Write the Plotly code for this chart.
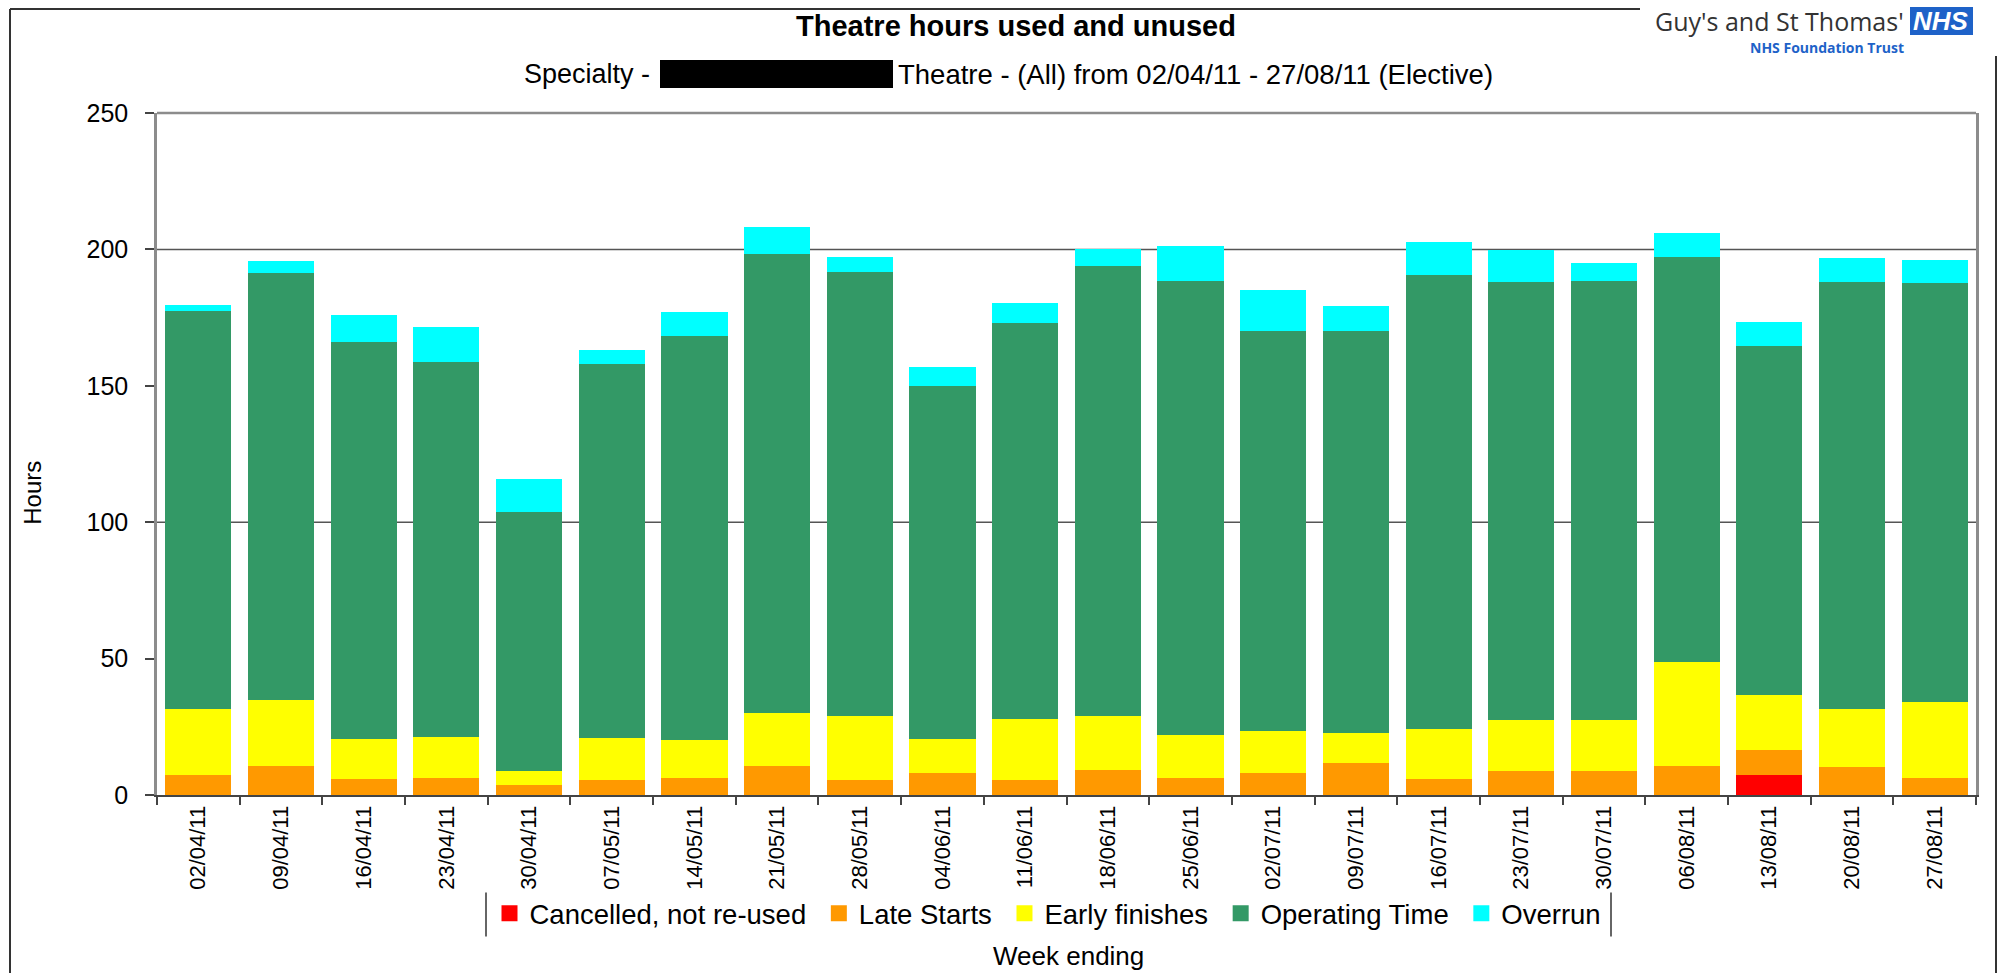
import plotly.graph_objects as go

# Week-ending dates (x categories)
weeks = ["02/04/11", "09/04/11", "16/04/11", "23/04/11", "30/04/11", "07/05/11",
         "14/05/11", "21/05/11", "28/05/11", "04/06/11", "11/06/11", "18/06/11",
         "25/06/11", "02/07/11", "09/07/11", "16/07/11", "23/07/11", "30/07/11",
         "06/08/11", "13/08/11", "20/08/11", "27/08/11"]

# Hours per category, stacked bottom to top
cancelled = [0, 0, 0, 0, 0, 0, 0, 0, 0, 0, 0, 0, 0, 0, 0, 0, 0, 0, 0, 7.4, 0, 0]
late_starts = [7.4, 10.6, 5.9, 6.4, 3.6, 5.6, 6.4, 10.6, 5.6, 8.2, 5.6, 9.3,
               6.4, 7.9, 11.9, 5.9, 8.8, 8.8, 10.6, 9.0, 10.1, 6.4]
early_finishes = [24.0, 24.1, 14.7, 15.0, 5.2, 15.3, 13.6, 19.3, 23.4, 12.4, 22.4, 19.7,
                  15.5, 15.5, 11.0, 18.3, 18.7, 18.7, 38.2, 20.1, 21.3, 27.8]
operating_time = [146.2, 156.5, 145.4, 137.5, 95.0, 137.0, 148.2, 168.5, 162.7, 129.3, 145.0,
                  165.1, 166.6, 146.8, 147.3, 166.6, 160.6, 161.0, 148.3, 128.1, 156.7, 153.5]
overrun = [1.9, 4.4, 9.8, 12.8, 11.9, 5.3, 8.9, 9.9, 5.4, 7.1, 7.5, 5.9,
           12.8, 15.1, 8.9, 11.8, 11.7, 6.6, 9.0, 8.9, 8.6, 8.4]

y_ticks = [0, 50, 100, 150, 200, 250]
grid_values = [100, 200]

W, H = 2009, 973
L, R, T, B = 157, 1976, 113, 795.5
FONT = "Liberation Sans, Arial, sans-serif"


def px(x):
    return (x - L) / (R - L)


def py(y):
    return (B - y) / (B - T)


series = [
    ("Cancelled, not re-used", cancelled, "#FF0000"),
    ("Late Starts", late_starts, "#FF9900"),
    ("Early finishes", early_finishes, "#FFFF00"),
    ("Operating Time", operating_time, "#339966"),
    ("Overrun", overrun, "#00FFFF"),
]

fig = go.Figure()
for name, vals, col in series:
    fig.add_trace(go.Bar(x=weeks, y=vals, name=name, showlegend=False,
                         marker=dict(color=col, line=dict(width=0))))
# legend keys drawn as larger square swatches
for i, (name, vals, col) in enumerate(series):
    pad = "&nbsp;" if i < len(series) - 1 else ""
    fig.add_trace(go.Scatter(x=[None], y=[None], mode="markers", name=name + pad,
                             marker=dict(symbol="square", size=16, color=col),
                             hoverinfo="skip"))

shapes = []
# horizontal grid lines behind the bars
for g in grid_values:
    shapes.append(dict(type="line", xref="paper", yref="y", x0=0, x1=1, y0=g, y1=g,
                       line=dict(color="#555555", width=1.5), layer="below"))
# top edge of the plot area
shapes.append(dict(type="line", xref="paper", yref="paper", x0=0, x1=1, y0=1, y1=1,
                   line=dict(color="#8c8c8c", width=2.5)))
# outer frame
shapes += [
    dict(type="line", xref="paper", yref="paper", x0=px(10), x1=px(10), y0=py(9), y1=py(975),
         line=dict(color="#333333", width=2)),
    dict(type="line", xref="paper", yref="paper", x0=px(10), x1=px(1640), y0=py(9), y1=py(9),
         line=dict(color="#333333", width=2)),
    dict(type="line", xref="paper", yref="paper", x0=px(1996), x1=px(1996), y0=py(56), y1=py(975),
         line=dict(color="#333333", width=2)),
]
# redaction box in the subtitle
shapes.append(dict(type="rect", xref="paper", yref="paper", x0=px(660), x1=px(893),
                   y0=py(88), y1=py(60), fillcolor="#000000", line=dict(width=0)))
# legend side rules
for lx in (486, 1611):
    shapes.append(dict(type="line", xref="paper", yref="paper", x0=px(lx), x1=px(lx),
                       y0=py(893), y1=py(937), line=dict(color="#333333", width=1.5)))
# NHS logo box
shapes.append(dict(type="rect", xref="paper", yref="paper", x0=px(1910), x1=px(1973),
                   y0=py(35), y1=py(7), fillcolor="#1E62C8", line=dict(width=0)))

annotations = [
    dict(text="<b>Theatre hours used and unused</b>", x=px(1016), y=py(26),
         font=dict(size=29, color="#000000", family=FONT)),
    dict(text="Specialty -", x=px(652), y=py(74), xanchor="right",
         font=dict(size=27, color="#000000", family=FONT)),
    dict(text="Theatre - (All) from 02/04/11 - 27/08/11 (Elective)", x=px(896), y=py(74),
         xanchor="left", font=dict(size=27.5, color="#000000", family=FONT)),
    dict(text="Hours", x=px(33), y=py(493), textangle=-90,
         font=dict(size=24, color="#000000", family=FONT)),
    dict(text="Week ending", x=px(1068), y=py(957),
         font=dict(size=26, color="#000000", family=FONT)),
    dict(text="Guy's and St Thomas'", x=px(1906), y=py(21), xanchor="right",
         font=dict(size=25, color="#333333", family="Open Sans, sans-serif")),
    dict(text="<b><i>NHS</i></b>", x=px(1941), y=py(21),
         font=dict(size=26, color="#FFFFFF", family="Liberation Sans, Arial, sans-serif")),
    dict(text="<b>NHS Foundation Trust</b>", x=px(1906), y=py(47), xanchor="right",
         font=dict(size=14, color="#1E62C8", family="Open Sans, sans-serif")),
]
for a in annotations:
    a.setdefault("xanchor", "center")
    a.update(xref="paper", yref="paper", yanchor="middle", showarrow=False)

fig.update_layout(
    width=W, height=H,
    barmode="stack", bargap=0.2,
    paper_bgcolor="#FFFFFF", plot_bgcolor="#FFFFFF",
    margin=dict(l=L, r=W - R, t=T, b=H - B, pad=0),
    font=dict(family=FONT, color="#000000"),
    showlegend=True,
    legend=dict(orientation="h", x=px(1048), xanchor="center", y=py(914), yanchor="middle",
                traceorder="normal", font=dict(size=27.5, family=FONT, color="#000000"),
                itemclick=False, bgcolor="rgba(0,0,0,0)", itemwidth=30),
    shapes=shapes,
    annotations=annotations,
)
fig.update_xaxes(
    type="category", tickangle=-90, tickfont=dict(size=22, family=FONT, color="#000000"),
    showline=True, linecolor="#444444", linewidth=2,
    ticks="outside", tickson="boundaries", ticklen=8, tickcolor="#444444", tickwidth=1.5,
    showgrid=False, fixedrange=True,
)
fig.update_yaxes(
    range=[0, 250], tickvals=y_ticks, tickfont=dict(size=25, family=FONT, color="#000000"),
    showline=True, linecolor="#8c8c8c", linewidth=2.5, mirror=True,
    ticks="outside", ticklen=9, tickcolor="#444444", tickwidth=1.5,
    ticklabelstandoff=12, showgrid=False, zeroline=False, fixedrange=True,
)

fig.write_html("out.html")
